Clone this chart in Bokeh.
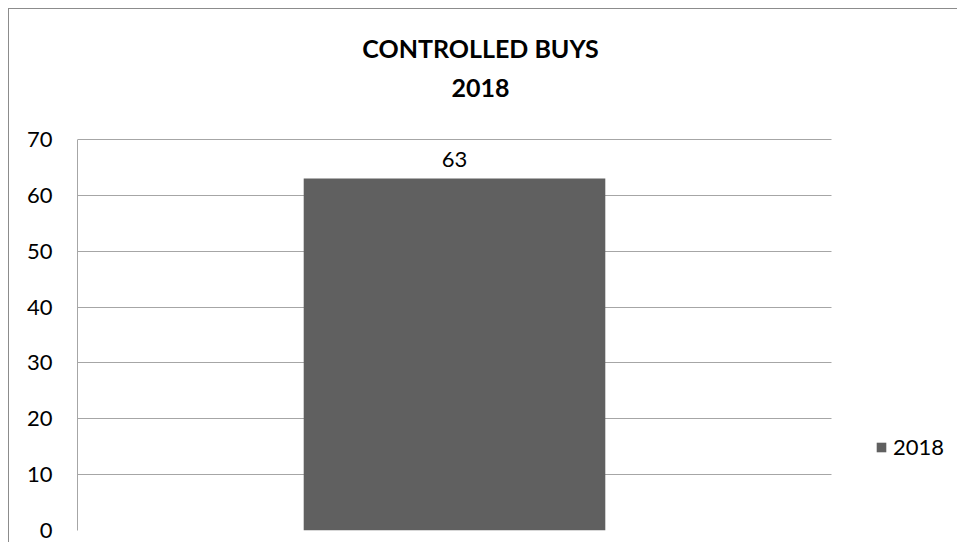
from bokeh.plotting import figure
from bokeh.layouts import column
from bokeh.models import (ColumnDataSource, Range1d, FixedTicker, Label,
                          Legend, LegendItem, BoxAnnotation)
from bokeh.core.properties import value
from bokeh.embed import file_html
from bokeh.resources import INLINE

categories = ["2018"]
values = [63]
value_labels = ["63"]
y_ticks = [0, 10, 20, 30, 40, 50, 60, 70]
title_lines = ["CONTROLLED BUYS", "2018"]
series_name = "2018"

FONT = "Lato"
GRID = "#a6a6a6"
TXT = "22px"

# layout geometry (canvas pixels)
W, H = 949, 534
LEFT, BOTTOM = 68, 13
AXIS_TOP_PX = 130          # where the top tick (70) sits from canvas top
PLOT_W_PX = 754            # width of the category area
TITLE_CX_PX = 471          # title centre, canvas px from left
TITLE_CY_PX = [38, 78]     # title line centres, canvas px from top
frame_w = W - LEFT
frame_h = H - BOTTOM
ymax = y_ticks[-1]
px_per_unit = (frame_h - AXIS_TOP_PX) / ymax
y_end = frame_h / px_per_unit
x_end = frame_w / PLOT_W_PX

xs = [i + 0.5 for i in range(len(categories))]
src = ColumnDataSource(dict(x=xs, val=values, lab=value_labels))

p = figure(width=W, height=H, output_backend="svg", toolbar_location=None,
           x_range=Range1d(0, x_end), y_range=Range1d(0, y_end),
           min_border_left=LEFT, min_border_right=0, min_border_top=0,
           min_border_bottom=BOTTOM, title=None)
p.styles = {"border-left": "1px solid #8c8c8c", "border-top": "1px solid #8c8c8c"}
p.outline_line_color = None
p.background_fill_color = "white"
p.border_fill_color = "white"

bars = p.vbar(x="x", top="val", width=0.4, source=src, fill_color="#606060",
              line_color=None)
p.text(x="x", y="val", text="lab", source=src, text_align="center",
       text_baseline="alphabetic", y_offset=-19, text_font=value(FONT),
       text_font_size=TXT, text_color="#000000")

p.xaxis.visible = False
p.xgrid.visible = False
p.ygrid.grid_line_color = GRID
p.ygrid.grid_line_width = 1
p.ygrid.ticker = FixedTicker(ticks=y_ticks)
p.yaxis.ticker = FixedTicker(ticks=y_ticks)
p.yaxis.bounds = (0, ymax)
p.yaxis.axis_line_color = GRID
p.yaxis.major_tick_line_color = None
p.yaxis.minor_tick_line_color = None
p.yaxis.major_tick_out = 0
p.yaxis.major_label_standoff = 25
p.yaxis.major_label_text_font = FONT
p.yaxis.major_label_text_font_size = TXT
p.yaxis.major_label_text_color = "#000000"

# hide grid beyond plot area (right-hand legend zone)
p.add_layout(BoxAnnotation(left=len(categories), fill_color="white", fill_alpha=1,
                           line_color=None))

for txt, cy in zip(title_lines, TITLE_CY_PX):
    p.add_layout(Label(x=(TITLE_CX_PX - LEFT) / PLOT_W_PX,
                       y=(frame_h - cy) / px_per_unit, text=txt,
                       text_align="center", text_baseline="middle",
                       text_font=FONT, text_font_size="25px",
                       text_font_style="bold", text_color="#000000"))

lg = Legend(items=[LegendItem(label=series_name, renderers=[bars])],
            location=(798, 70))
lg.padding = 0
lg.margin = 0
lg.spacing = 0
lg.border_line_color = None
lg.background_fill_alpha = 0
lg.glyph_width = 12
lg.glyph_height = 12
lg.label_standoff = 6
lg.label_text_font = FONT
lg.label_text_font_size = TXT
lg.label_text_color = "#000000"
p.add_layout(lg, "center")

root = column(p, styles={"padding-left": "8px", "padding-top": "8px",
                         "background-color": "white"})

open("out.html", "w").write(file_html(root, INLINE))
